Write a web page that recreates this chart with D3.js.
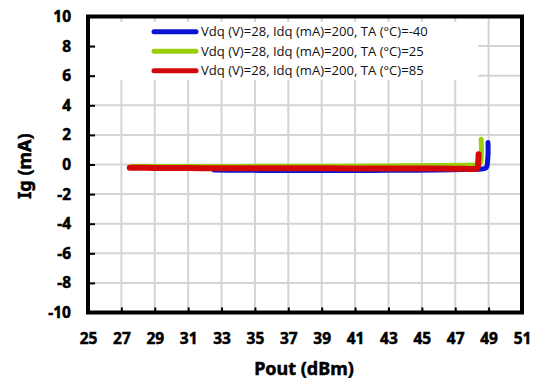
<!DOCTYPE html>
<html>
<head>
<meta charset="utf-8">
<script src="https://cdn.jsdelivr.net/npm/d3@7"></script>
<style>
  html, body { margin: 0; padding: 0; background: #fff; }
  svg { display: block; font-family: "Open Sans", "Noto Sans", sans-serif; }
  .bold { font-family: "Noto Sans", "Open Sans", sans-serif; font-weight: 700; stroke: #000; stroke-width: 0.5px; }
</style>
</head>
<body>
<svg id="chart" width="538" height="382"></svg>
<script>
// Gate current Ig versus output power at three case temperatures
const xTicks = [25, 27, 29, 31, 33, 35, 37, 39, 41, 43, 45, 47, 49, 51];
const yTicks = [-10, -8, -6, -4, -2, 0, 2, 4, 6, 8, 10];

const seriesNames = [
  "Vdq (V)=28, Idq (mA)=200, TA (°C)=-40",
  "Vdq (V)=28, Idq (mA)=200, TA (°C)=25",
  "Vdq (V)=28, Idq (mA)=200, TA (°C)=85"
];
const seriesColors = ["#0a14d2", "#9acd0a", "#d40808"];

// Pout (dBm) and Ig (mA), -40 °C
const poutM40 = [32.55, 34, 36, 38, 40, 42, 44, 46, 47.5, 48.5, 48.85, 48.95, 48.97, 48.96];
const igM40   = [-0.38, -0.39, -0.4, -0.4, -0.41, -0.4, -0.39, -0.37, -0.34, -0.31, -0.22, 0.4, 1.0, 1.48];

// 25 °C
const pout25 = [27.6, 30, 32, 34, 36, 38, 40, 42, 44, 46, 47.5, 48.2, 48.48, 48.56, 48.57, 48.55];
const ig25   = [-0.13, -0.13, -0.13, -0.13, -0.12, -0.12, -0.11, -0.1, -0.09, -0.07, -0.05, -0.04, 0.05, 0.6, 1.2, 1.7];

// 85 °C
const pout85 = [27.5, 29, 31, 33, 35, 37, 39, 41, 43, 45, 47, 48.0, 48.3, 48.38, 48.4];
const ig85   = [-0.22, -0.23, -0.24, -0.25, -0.26, -0.25, -0.26, -0.27, -0.27, -0.27, -0.28, -0.3, -0.25, 0.2, 0.7];

const series = [
  { name: seriesNames[0], color: seriesColors[0], width: 5, x: poutM40, y: igM40 },
  { name: seriesNames[1], color: seriesColors[1], width: 5, x: pout25, y: ig25 },
  { name: seriesNames[2], color: seriesColors[2], width: 6, x: pout85, y: ig85 }
];

const svg = d3.select("#chart");
const plotLeft = 88, plotRight = 522, plotTop = 16.5, plotBottom = 312.5;

const x = d3.scaleLinear().domain([25, 51]).range([plotLeft, plotRight]);
const y = d3.scaleLinear().domain([-10, 10]).range([plotBottom, plotTop]);

// grid
const grid = svg.append("g").attr("stroke", "#d4d4d4").attr("stroke-width", 2);
grid.selectAll("line.v").data(xTicks.slice(1, -1)).enter().append("line")
  .attr("x1", d => x(d)).attr("x2", d => x(d))
  .attr("y1", plotTop).attr("y2", plotBottom);
grid.selectAll("line.h").data(yTicks.slice(1, -1)).enter().append("line")
  .attr("y1", d => y(d)).attr("y2", d => y(d))
  .attr("x1", plotLeft).attr("x2", plotRight);

// axes (plain hyphen for negatives)
const fmt = d => String(d);
const xAxis = d3.axisBottom(x).tickValues(xTicks).tickSize(-5).tickPadding(20).tickFormat(fmt);
const yAxis = d3.axisLeft(y).tickValues(yTicks).tickSize(-7).tickPadding(17).tickFormat(fmt);

const gx = svg.append("g").attr("transform", `translate(0,${plotBottom})`).call(xAxis);
const gy = svg.append("g").attr("transform", `translate(${plotLeft},0)`).call(yAxis);
[gx, gy].forEach(g => {
  g.attr("font-family", null).attr("font-size", null);
  g.select(".domain").remove();
  g.selectAll(".tick line").attr("stroke", "#000").attr("stroke-width", 2);
  g.selectAll(".tick text").attr("class", "bold").attr("fill", "#000").attr("font-size", 15.5);
});

// legend panel
const legend = svg.append("g");
legend.append("rect").attr("x", 95).attr("y", 22).attr("width", 383).attr("height", 58).attr("fill", "#fff");
series.forEach((s, i) => {
  const ly = 31.7 + i * 19.5;
  legend.append("line").attr("x1", 154).attr("x2", 196).attr("y1", ly).attr("y2", ly)
    .attr("stroke", s.color).attr("stroke-width", 5).attr("stroke-linecap", "round");
  const t = legend.append("text").attr("x", 201).attr("y", ly).attr("dy", "0.36em")
    .attr("font-size", 12).attr("fill", "#111").text(s.name);
  if (i === 0) {
    // size the entry text so the first label spans about 227 px
    const len = t.node().getComputedTextLength();
    series.legendSize = 12 * 227 / len;
  }
});
legend.selectAll("text").attr("font-size", series.legendSize);

// series lines
const line = d3.line().x(d => x(d[0])).y(d => y(d[1])).curve(d3.curveCatmullRom.alpha(0.5));
const plot = svg.append("g");
series.forEach(s => {
  const pts = s.x.map((v, i) => [v, s.y[i]]);
  plot.append("path").datum(pts).attr("d", line)
    .attr("fill", "none").attr("stroke", s.color).attr("stroke-width", s.width)
    .attr("stroke-linecap", "round").attr("stroke-linejoin", "round");
});

// plot frame
svg.append("rect").attr("x", plotLeft).attr("y", plotTop).attr("width", plotRight - plotLeft).attr("height", plotBottom - plotTop)
  .attr("fill", "none").attr("stroke", "#000").attr("stroke-width", 4);

// axis titles
svg.append("text").attr("class", "bold").attr("x", 304).attr("y", 369).attr("dy", "0.36em").attr("text-anchor", "middle")
  .attr("font-size", 18).text("Pout (dBm)");
svg.append("text").attr("class", "bold").attr("transform", "translate(25,166) rotate(-90)").attr("dy", "0.36em")
  .attr("text-anchor", "middle").attr("font-size", 18).text("Ig (mA)");
</script>
</body>
</html>
